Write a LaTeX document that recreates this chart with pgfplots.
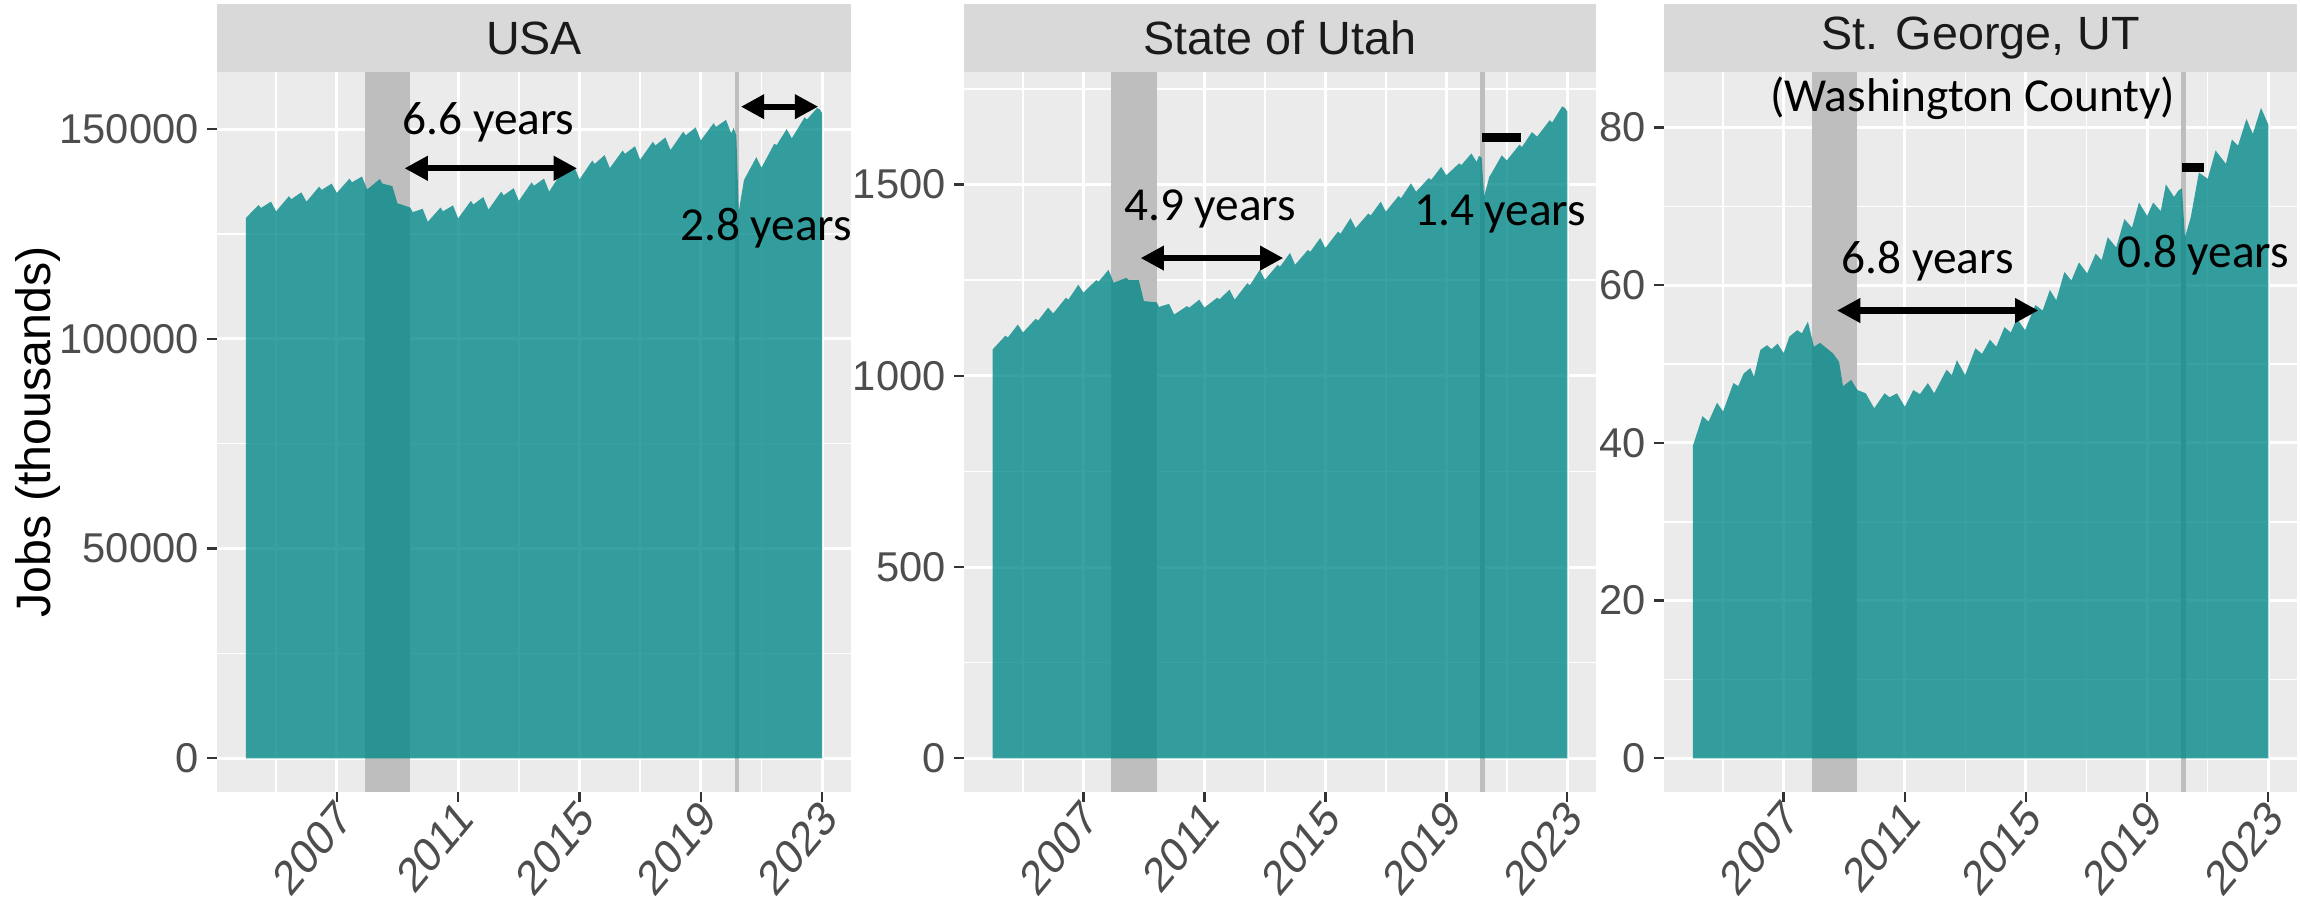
\documentclass[border=0pt]{standalone}
\usepackage{fontspec}
\setmainfont{Liberation Sans}
\newfontfamily\annotfont{Carlito}
\usepackage{pgfplots}
\pgfplotsset{compat=1.18}
\usetikzlibrary{arrows.meta}
\definecolor{areafill}{RGB}{0,136,136}
\definecolor{panelbg}{RGB}{235,235,235}
\definecolor{stripbg}{RGB}{217,217,217}
\definecolor{bandgray}{RGB}{190,190,190}
\definecolor{ticklab}{RGB}{77,77,77}
\definecolor{tickcol}{RGB}{51,51,51}
\definecolor{striptext}{RGB}{26,26,26}
\pgfplotsset{
 panel/.style={
  scale only axis, height=216pt, anchor=south west,
  xmin=2003.05, xmax=2023.95,
  axis background/.style={fill=panelbg},
  axis line style={draw=none},
  xtick={2007,2011,2015,2019,2023},
  minor xtick={2005,2009,2013,2017,2021},
  grid=both,
  major grid style={white, line width=0.9pt},
  minor grid style={white, line width=0.45pt},
  tick align=outside, xtick pos=bottom, ytick pos=left,
  major tick length=3pt, minor tick length=0pt,
  tick style={tickcol, line width=0.7pt},
  ticklabel style={font=\fontsize{12.5}{15}\selectfont, text=ticklab},
  yticklabel style={xshift=1pt},
  xticklabel={\scalebox{0.97}[1.17]{\rotatebox{45}{\pgfmathprintnumber{\tick}}}},
  xticklabel style={anchor=north east, inner sep=0pt, xshift=5.5pt, yshift=1.6pt},
  /pgf/number format/assume math mode=true,
  /pgf/number format/fixed,
  /pgf/number format/precision=0,
  /pgf/number format/1000 sep={},
  scaled y ticks=false,
  scaled x ticks=false,
  clip=false,
 },
 area/.style={fill=areafill, fill opacity=0.78, draw=none},
}
\tikzset{
 ann/.style={font=\annotfont\fontsize{14.2}{17}\selectfont, anchor=base, inner sep=0pt},
 arr/.style={{Triangle[length=7pt,width=7pt]}-{Triangle[length=7pt,width=7pt]}, line width=1.9pt},
 bar/.style={line width=2.6pt},
}
\begin{document}
\begin{tikzpicture}
\useasboundingbox (0,0) rectangle (690pt,269.7pt);
% ---------------- USA
\begin{axis}[panel, at={(65.1pt,32.1pt)}, width=190.2pt,
  ymin=-8034, ymax=163612,
  ytick={0,50000,100000,150000}, minor ytick={25000,75000,125000}]
\fill[bandgray] (axis cs:2007.92,-8034) rectangle (axis cs:2009.42,163612);
\fill[bandgray] (axis cs:2020.12,-8034) rectangle (axis cs:2020.27,163612);
\addplot[area] coordinates {(2004,0)
(2004.0,128800) (2004.42,131900) (2004.5,131200) (2004.83,132700)
(2005.0,130400) (2005.42,134000) (2005.5,133300) (2005.83,134900)
(2006.0,132700) (2006.42,136300) (2006.5,135500) (2006.83,137000)
(2007.0,134800) (2007.42,138200) (2007.5,137300) (2007.83,138700)
(2008.0,135600) (2008.42,138100) (2008.5,137000) (2008.83,136400)
(2009.0,132300) (2009.42,131300) (2009.5,130200) (2009.83,131000)
(2010.0,127900) (2010.42,131300) (2010.5,130400) (2010.83,131800)
(2011.0,128700) (2011.42,132900) (2011.5,132000) (2011.83,133800)
(2012.0,130800) (2012.42,135100) (2012.5,134200) (2012.83,135900)
(2013.0,132900) (2013.42,137300) (2013.5,136500) (2013.83,138200)
(2014.0,135100) (2014.42,139800) (2014.5,139000) (2014.83,141000)
(2015.0,138000) (2015.42,142500) (2015.5,141700) (2015.83,143800)
(2016.0,140700) (2016.42,144900) (2016.5,144100) (2016.83,145900)
(2017.0,142700) (2017.42,147000) (2017.5,146100) (2017.83,148000)
(2018.0,145000) (2018.42,149400) (2018.5,148500) (2018.83,150400)
(2019.0,147300) (2019.42,151400) (2019.5,150500) (2019.83,152200)
(2020.0,149000) (2020.08,150300) (2020.17,148500) (2020.25,130400) (2020.42,137800) (2020.5,138900) (2020.83,143300)
(2021.0,140800) (2021.42,146500) (2021.5,146200) (2021.83,150000)
(2022.0,147800) (2022.42,152800) (2022.5,152300) (2022.83,155000) (2022.92,154700)
(2023.0,153800) (2023,0)};
\draw[arr] (axis cs:2009.23,140650) -- (axis cs:2014.92,140650);
\draw[arr] (axis cs:2020.32,155340) -- (axis cs:2022.87,155340);
\node[ann] at (axis cs:2012.0,148590) {6.6 years};
\node[ann] at (axis cs:2021.15,123390) {2.8 years};
\end{axis}
% ---------------- Utah
\begin{axis}[panel, at={(289.2pt,32.1pt)}, width=189.6pt,
  ymin=-88, ymax=1794,
  ytick={0,500,1000,1500}, minor ytick={250,750,1250,1750}]
\fill[bandgray] (axis cs:2007.92,-88) rectangle (axis cs:2009.42,1794);
\fill[bandgray] (axis cs:2020.12,-88) rectangle (axis cs:2020.27,1794);
\addplot[area] coordinates {(2004,0)
(2004.0,1069) (2004.42,1105) (2004.5,1100) (2004.83,1134)
(2005.0,1113) (2005.42,1149) (2005.5,1144) (2005.83,1178)
(2006.0,1163) (2006.42,1204) (2006.5,1199) (2006.83,1238)
(2007.0,1217) (2007.42,1250) (2007.5,1246) (2007.83,1277)
(2008.0,1243) (2008.42,1256) (2008.5,1250) (2008.83,1250)
(2009.0,1195) (2009.42,1192) (2009.5,1180) (2009.83,1188)
(2010.0,1160) (2010.42,1182) (2010.5,1178) (2010.83,1199)
(2011.0,1178) (2011.42,1204) (2011.5,1200) (2011.83,1225)
(2012.0,1199) (2012.42,1242) (2012.5,1236) (2012.83,1277)
(2013.0,1251) (2013.42,1290) (2013.5,1285) (2013.83,1321)
(2014.0,1290) (2014.42,1329) (2014.5,1324) (2014.83,1360)
(2015.0,1334) (2015.42,1377) (2015.5,1371) (2015.83,1412)
(2016.0,1386) (2016.42,1424) (2016.5,1419) (2016.83,1455)
(2017.0,1429) (2017.42,1470) (2017.5,1464) (2017.83,1503)
(2018.0,1481) (2018.42,1517) (2018.5,1512) (2018.83,1546)
(2019.0,1524) (2019.42,1555) (2019.5,1551) (2019.83,1581)
(2020.0,1559) (2020.08,1575) (2020.17,1570) (2020.25,1468) (2020.42,1520) (2020.5,1530) (2020.83,1576)
(2021.0,1563) (2021.42,1604) (2021.5,1598) (2021.83,1637)
(2022.0,1625) (2022.42,1668) (2022.5,1662) (2022.83,1704) (2022.92,1700)
(2023.0,1691) (2023,0)};
\draw[arr] (axis cs:2008.89,1307.6) -- (axis cs:2013.61,1307.6);
\draw[bar] (axis cs:2020.19,1622) -- (axis cs:2021.46,1622);
\node[ann] at (axis cs:2011.19,1407) {4.9 years};
\node[ann] at (axis cs:2020.78,1394) {1.4 years};
\end{axis}
% ---------------- St. George
\begin{axis}[panel, at={(499.2pt,32.1pt)}, width=189.9pt,
  ymin=-4.27, ymax=87.05,
  ytick={0,20,40,60,80}, minor ytick={10,30,50,70}]
\fill[bandgray] (axis cs:2007.92,-4.27) rectangle (axis cs:2009.42,87.05);
\fill[bandgray] (axis cs:2020.12,-4.27) rectangle (axis cs:2020.27,87.05);
\addplot[area] coordinates {(2004,0)
(2004.0,39.6) (2004.32,43.4) (2004.52,42.7) (2004.8,45.1) (2005.0,44.0)
(2005.34,47.6) (2005.5,47.2) (2005.68,48.8) (2005.9,49.5) (2006.02,48.4)
(2006.23,51.8) (2006.45,52.4) (2006.6,51.9) (2006.8,52.6) (2007.0,51.4)
(2007.19,53.5) (2007.45,54.3) (2007.6,53.9) (2007.8,55.4) (2008.0,52.2)
(2008.2,52.7) (2008.42,52.0) (2008.62,51.4) (2008.83,50.3) (2008.96,47.2)
(2009.23,48.0) (2009.44,46.7) (2009.71,46.3) (2009.99,44.4)
(2010.33,46.3) (2010.5,45.8) (2010.74,46.3) (2011.0,44.6)
(2011.28,46.7) (2011.5,46.2) (2011.76,47.6) (2011.97,46.3)
(2012.38,49.3) (2012.55,48.6) (2012.72,50.5) (2012.99,48.6)
(2013.33,52.0) (2013.55,51.3) (2013.81,53.1) (2014.02,52.2)
(2014.29,54.7) (2014.5,54.0) (2014.7,55.8) (2014.97,54.3)
(2015.31,57.5) (2015.55,56.8) (2015.79,59.4) (2016.0,58.1)
(2016.27,61.7) (2016.5,60.6) (2016.75,62.9) (2017.02,61.5)
(2017.3,64.0) (2017.5,63.2) (2017.7,66.1) (2017.98,64.8)
(2018.25,68.4) (2018.5,67.3) (2018.73,70.5) (2019.0,68.8)
(2019.2,70.5) (2019.45,69.4) (2019.62,72.8) (2019.89,71.2) (2020.03,72.0)
(2020.15,72.3) (2020.25,66.1) (2020.44,68.6) (2020.71,74.3) (2021.0,73.5)
(2021.26,77.1) (2021.6,75.4) (2021.8,78.5) (2022.0,77.7)
(2022.28,81.1) (2022.49,79.2) (2022.76,82.5) (2023.0,80.4) (2023,0)};
\draw[arr] (axis cs:2008.76,56.8) -- (axis cs:2015.41,56.8);
\draw[bar] (axis cs:2020.16,74.9) -- (axis cs:2020.87,74.9);
\node[ann] at (axis cs:2011.76,61.5) {6.8 years};
\node[ann] at (axis cs:2020.85,62.2) {0.8 years};
\node[ann] at (axis cs:2013.24,82.0) {(Washington County)};
\end{axis}
% ---------------- strips
\fill[stripbg] (65.1pt,248.1pt) rectangle (255.3pt,268.5pt);
\fill[stripbg] (289.2pt,248.1pt) rectangle (478.8pt,268.5pt);
\fill[stripbg] (499.2pt,248.1pt) rectangle (689.1pt,268.5pt);
\tikzset{strip/.style={font=\fontsize{14}{16}\selectfont, text=striptext}}
\node[strip] at (160.2pt,258.3pt) {USA};
\node[strip] at (384.0pt,258.3pt) {State of Utah};
\node[strip] at (594.15pt,258.3pt) {St. George, UT};
\node[rotate=90, font=\fontsize{14.5}{17}\selectfont] at (11.4pt,140.1pt) {Jobs (thousands)};
\end{tikzpicture}
\end{document}
